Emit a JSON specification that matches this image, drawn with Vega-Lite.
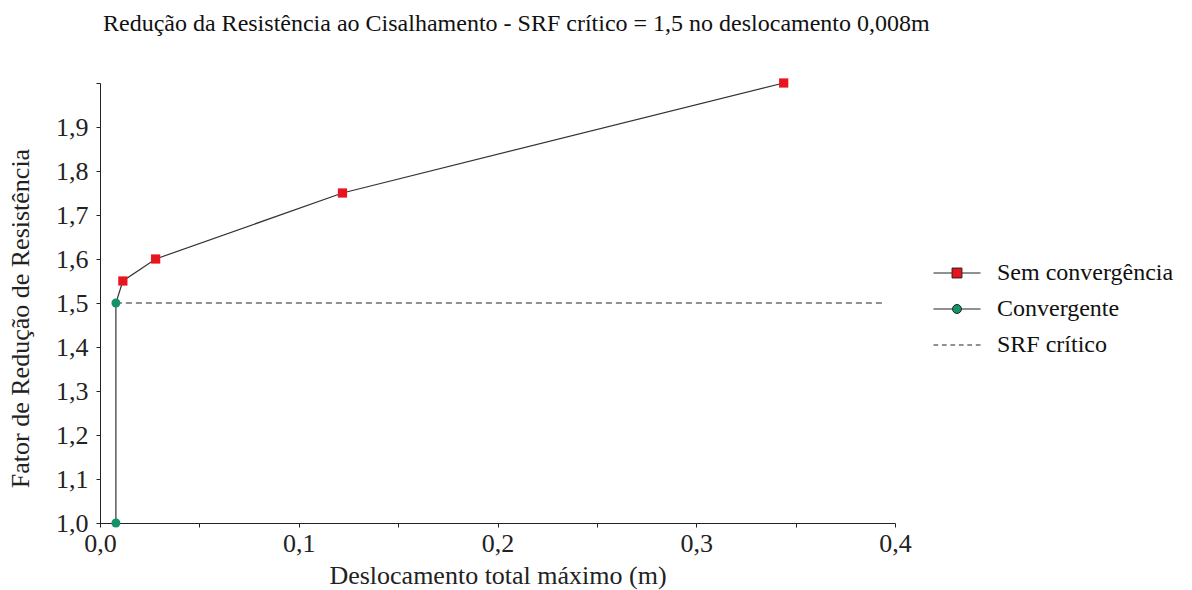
{
  "$schema": "https://vega.github.io/schema/vega-lite/v6.json",
  "autosize": "none",
  "width": 795,
  "height": 440,
  "padding": {"left": 100, "top": 83, "right": 297, "bottom": 67},
  "background": "white",
  "config": {
    "font": "Liberation Serif",
    "view": {"stroke": null},
    "axis": {"grid": false, "domainColor": "#222", "tickColor": "#222", "labelColor": "#222", "titleColor": "#222", "labelFont": "Liberation Serif", "titleFont": "Liberation Serif", "titleFontWeight": "normal", "labelFontSize": 26, "titleFontSize": 26},
    "legend": {"labelFont": "Liberation Serif", "titleFont": "Liberation Serif"},
    "title": {"font": "Liberation Serif"}
  },
  "title": {
    "text": "Redução da Resistência ao Cisalhamento - SRF crítico = 1,5 no deslocamento 0,008m",
    "font": "Liberation Serif",
    "fontSize": 24,
    "fontWeight": "normal",
    "color": "#111",
    "anchor": "start",
    "frame": "group",
    "dx": 3,
    "offset": 42
  },
  "datasets": {
    "pts": [
      {"idx": 1, "x": 0.008, "y": 1.0, "status": "Convergente"},
      {"idx": 2, "x": 0.008, "y": 1.5, "status": "Convergente"},
      {"idx": 3, "x": 0.0115, "y": 1.55, "status": "Sem convergência"},
      {"idx": 4, "x": 0.028, "y": 1.6, "status": "Sem convergência"},
      {"idx": 5, "x": 0.122, "y": 1.75, "status": "Sem convergência"},
      {"idx": 6, "x": 0.344, "y": 2.0, "status": "Sem convergência"}
    ],
    "srf": [{"x": 0.008, "x2": 0.394, "y": 1.5}]
  },
  "layer": [
    {
      "data": {"name": "srf"},
      "mark": {"type": "rule", "color": "#222", "strokeWidth": 1, "strokeDash": [6, 4]},
      "encoding": {
        "x": {"field": "x", "type": "quantitative"},
        "x2": {"field": "x2"},
        "y": {"field": "y", "type": "quantitative"}
      }
    },
    {
      "data": {"name": "pts"},
      "mark": {"type": "line", "color": "#333", "strokeWidth": 1.2},
      "encoding": {
        "x": {
          "field": "x", "type": "quantitative",
          "scale": {"domain": [0, 0.4], "nice": false, "zero": false},
          "axis": {
            "title": "Deslocamento total máximo (m)",
            "values": [0, 0.05, 0.1, 0.15, 0.2, 0.25, 0.3, 0.35, 0.4],
            "labelExpr": "round(datum.value*100) % 10 == 0 ? replace(format(datum.value, '.1f'), '.', ',') : ''",
            "tickSize": 4,
            "labelPadding": 3,
            "titlePadding": 6,
            "labelFlush": false
          }
        },
        "y": {
          "field": "y", "type": "quantitative",
          "scale": {"domain": [1.0, 2.0], "nice": false, "zero": false},
          "axis": {
            "title": "Fator de Redução de Resistência",
            "values": [1.0, 1.05, 1.1, 1.15, 1.2, 1.25, 1.3, 1.35, 1.4, 1.45, 1.5, 1.55, 1.6, 1.65, 1.7, 1.75, 1.8, 1.85, 1.9, 1.95, 2.0],
            "labelExpr": "(round(datum.value*100) % 10 == 0 && datum.value < 1.99) ? replace(format(datum.value, '.1f'), '.', ',') : ''",
            "tickSize": 4,
            "labelPadding": 8,
            "titlePadding": 22,
            "titleY": 235,
            "labelFlush": false
          }
        },
        "order": {"field": "idx", "type": "quantitative"}
      }
    },
    {
      "data": {"name": "pts"},
      "transform": [{"filter": "datum.status == 'Sem convergência'"}],
      "mark": {"type": "point", "shape": "square", "filled": true, "opacity": 1, "size": 85, "color": "#e8141e"},
      "encoding": {
        "x": {"field": "x", "type": "quantitative"},
        "y": {"field": "y", "type": "quantitative"}
      }
    },
    {
      "data": {"name": "pts"},
      "transform": [{"filter": "datum.status == 'Convergente'"}],
      "mark": {"type": "point", "shape": "circle", "filled": true, "opacity": 1, "size": 80, "color": "#129466"},
      "encoding": {
        "x": {"field": "x", "type": "quantitative"},
        "y": {"field": "y", "type": "quantitative"}
      }
    },
    {
      "data": {"name": "pts"},
      "transform": [{"filter": "datum.status == 'SRF crítico'"}],
      "mark": {"type": "point", "filled": true, "size": 2209, "opacity": 1, "stroke": "#222", "strokeWidth": 1},
      "encoding": {
        "x": {"field": "x", "type": "quantitative"},
        "y": {"field": "y", "type": "quantitative"},
        "color": {
          "field": "status", "type": "nominal",
          "scale": {"domain": ["Sem convergência", "Convergente", "SRF crítico"], "range": ["#e8141e", "#129466", "#222222"]},
          "legend": {
            "title": null,
            "orient": "none",
            "legendX": 833,
            "legendY": 166,
            "labelFont": "Liberation Serif",
            "labelFontSize": 24,
            "labelColor": "#111",
            "labelOffset": 16,
            "labelLimit": 400,
            "rowPadding": -11,
            "symbolSize": 2209,
            "symbolOpacity": 1,
            "symbolStrokeColor": "#222",
            "symbolStrokeWidth": 1
          }
        },
        "shape": {
          "field": "status", "type": "nominal",
          "scale": {"domain": ["Sem convergência", "Convergente", "SRF crítico"], "range": ["M-1,0H-0.21M0.21,0H1M-0.21,-0.21H0.21V0.21H-0.21Z", "M-1,0H-0.19M0.19,0H1M-0.19,0A0.19,0.19 0 1,0 0.19,0A0.19,0.19 0 1,0 -0.19,0Z", "M-1,0H-0.8M-0.64,0H-0.44M-0.28,0H-0.08M0.08,0H0.28M0.44,0H0.64M0.8,0H1"]}
        }
      }
    }
  ]
}
